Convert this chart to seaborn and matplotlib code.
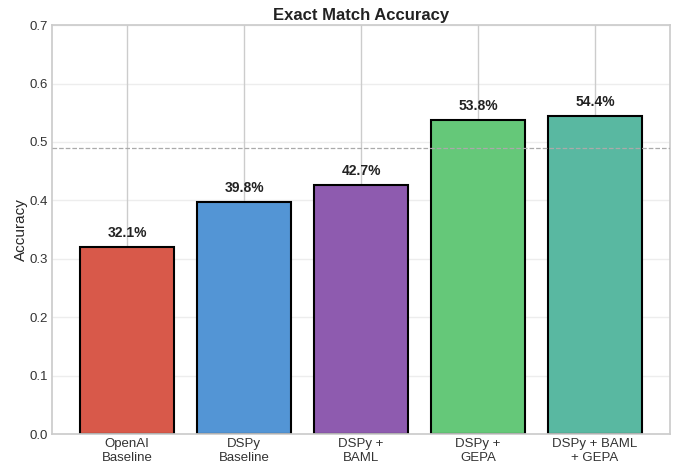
import pandas as pd
import matplotlib.pyplot as plt
import seaborn as sns

# Chart data
methods = ['OpenAI\nBaseline', 'DSPy\nBaseline', 'DSPy +\nBAML', 'DSPy +\nGEPA', 'DSPy + BAML\n+ GEPA']
accuracy = [0.321, 0.398, 0.427, 0.538, 0.544]
bar_colors = ['#d8594a', '#5395d5', '#8e5baf', '#65c879', '#59b8a1']
reference_line = 0.49

sns.set_theme(style='whitegrid')
plt.rcParams['font.family'] = ['Liberation Sans', 'DejaVu Sans']

df = pd.DataFrame({'Method': methods, 'Accuracy': accuracy})

fig = plt.figure(figsize=(6.8, 4.73), dpi=100)
ax = fig.add_axes([0.077, 0.082, 0.908, 0.865])

sns.barplot(data=df, x='Method', y='Accuracy', hue='Method', palette=bar_colors,
            legend=False, edgecolor='black', linewidth=1.5, saturation=1, ax=ax)

# Value labels above bars
for i, v in enumerate(accuracy):
    ax.text(i, v + 0.012, f'{v * 100:.1f}%', ha='center', va='bottom',
            fontsize=10, fontweight='bold', color='#222222')

ax.axhline(reference_line, color='#aaaaaa', linestyle='--', linewidth=0.9, zorder=5)

ax.set_xlim(-0.64, len(methods) - 0.36)
ax.set_ylim(0, 0.7)
ax.set_title('Exact Match Accuracy', fontsize=12, fontweight='bold', color='#222222', pad=4)
ax.set_ylabel('Accuracy', fontsize=11, labelpad=1)
ax.set_xlabel('')
ax.tick_params(axis='both', labelsize=9.5, colors='#333333', length=0, pad=3)
ax.yaxis.grid(True, alpha=0.35)
ax.xaxis.grid(True, color='#cccccc')
for spine in ax.spines.values():
    spine.set_color('#cccccc')

fig.savefig('out.png', dpi=100)
